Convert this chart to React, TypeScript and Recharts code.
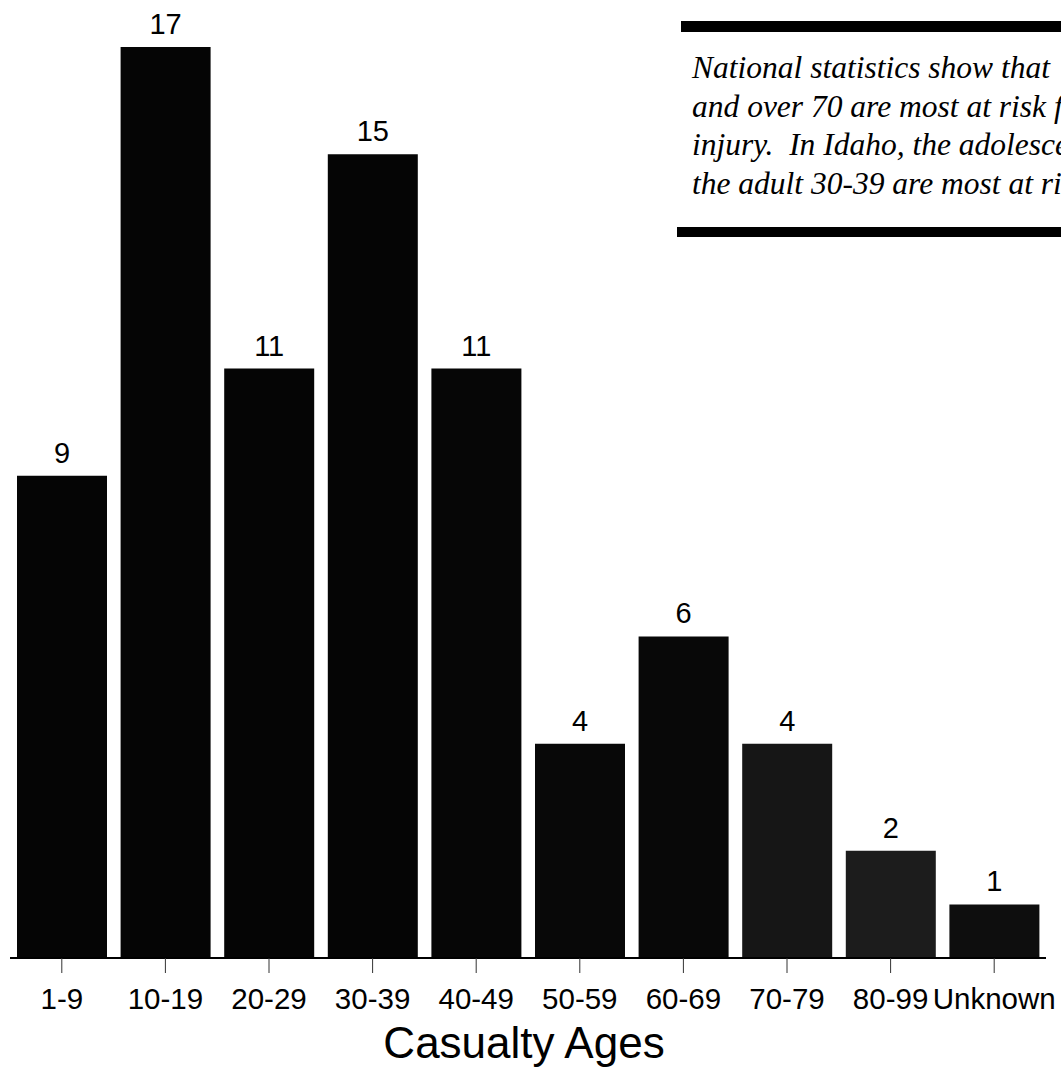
import { Bar, BarChart, Cell, Customized, LabelList, XAxis, YAxis } from "recharts"

const ages = ["1-9", "10-19", "20-29", "30-39", "40-49", "50-59", "60-69", "70-79", "80-99", "Unknown"]
const casualties = [9, 17, 11, 15, 11, 4, 6, 4, 2, 1]
const noteLines = [
  "National statistics show that",
  "and over 70 are most at risk for",
  "injury.  In Idaho, the adolescents",
  "the adult 30-39 are most at risk.",
]

const barFills = ["#050505", "#050505", "#050505", "#050505", "#060606", "#080808", "#080808", "#161616", "#1c1c1c", "#0e0e0e"]

const data = ages.map((age, i) => ({ age, count: casualties[i] }))

const sans = "'Liberation Sans', Arial, sans-serif"
const serif = "'Liberation Serif', 'Times New Roman', serif"

// boxed note in the upper right, clipped by the right edge like the scan
function NoteBox() {
  return (
    <g>
      <rect x={681} y={21} width={400} height={11} fill="#000" />
      {noteLines.map((line, i) => (
        <text
          key={i}
          x={692}
          y={78 + i * 38.5}
          fontFamily={serif}
          fontStyle="italic"
          fontSize={31.5}
          fill="#000"
          style={{ whiteSpace: "pre" }}
        >
          {line}
        </text>
      ))}
      <rect x={677} y={227} width={400} height={10} fill="#000" />
    </g>
  )
}

export default function App() {
  return (
    <div style={{ position: "absolute", left: 0, top: 0, width: 1061, height: 1076, overflow: "hidden", background: "#fff" }}>
      <BarChart width={1061} height={1076} data={data} margin={{ top: 47, right: 15, bottom: 58, left: 10 }}>
        <XAxis
          dataKey="age"
          height={60}
          stroke="#000"
          strokeWidth={2}
          tickSize={15}
          tickMargin={15}
          tickLine={{ stroke: "#333", strokeWidth: 1 }}
          tick={{ fill: "#000", fontSize: 29.5, fontFamily: sans }}
          interval={0}
          label={{
            value: "Casualty Ages",
            position: "bottom",
            offset: 9,
            dx: -4,
            fill: "#000",
            fontSize: 44,
            fontFamily: sans,
          }}
        />
        <YAxis hide domain={[0, 17]} />
        <Bar dataKey="count" barSize={90} isAnimationActive={false}>
          {data.map((d, i) => (
            <Cell key={d.age} fill={barFills[i]} />
          ))}
          <LabelList dataKey="count" position="top" offset={13} fill="#000" fontSize={29} fontFamily={sans} />
        </Bar>
        <Customized component={<NoteBox />} />
      </BarChart>
    </div>
  )
}
